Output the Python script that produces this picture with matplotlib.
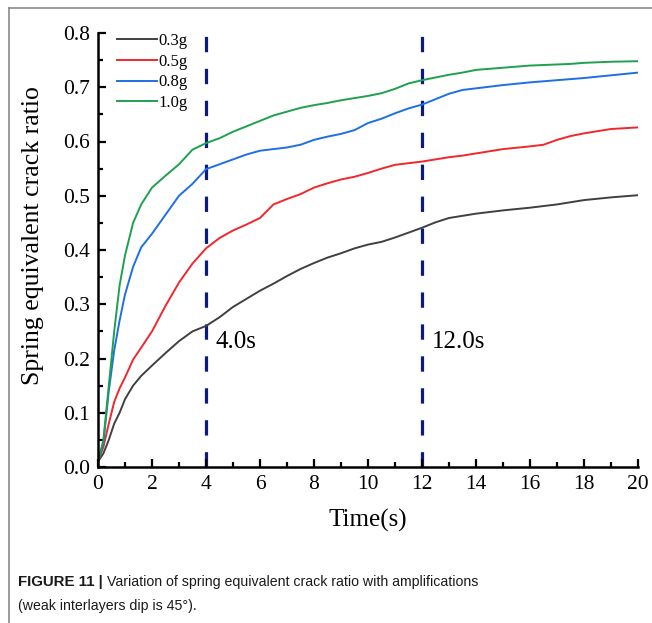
import matplotlib
matplotlib.use('Agg')
import matplotlib.pyplot as plt
from matplotlib.lines import Line2D

# 时间（s）
time = [0, 0.2, 0.4, 0.6, 0.8, 1.0, 1.3, 1.6, 2.0, 2.5, 3.0, 3.5, 4.0, 4.5,
        5.0, 5.5, 6.0, 6.5, 7.0, 7.5, 8.0, 8.5, 9.0, 9.5, 10.0, 10.5, 11.0,
        11.5, 12.0, 12.5, 13.0, 13.5, 14.0, 15.0, 16.0, 16.5, 17.0, 17.5,
        18.0, 19.0, 20.0]

# 不同地震动幅值下的弹簧等效裂缝比
ratio_03g = [0.010, 0.025, 0.050, 0.080, 0.100, 0.125, 0.150, 0.168, 0.187,
             0.210, 0.232, 0.250, 0.260, 0.276, 0.295, 0.310, 0.325, 0.338,
             0.352, 0.365, 0.376, 0.386, 0.394, 0.403, 0.410, 0.415, 0.423,
             0.432, 0.441, 0.451, 0.459, 0.463, 0.467, 0.473, 0.478, 0.481,
             0.484, 0.488, 0.492, 0.497, 0.501]
ratio_05g = [0.010, 0.037, 0.080, 0.120, 0.145, 0.165, 0.198, 0.220, 0.250,
             0.297, 0.340, 0.375, 0.403, 0.422, 0.436, 0.447, 0.459, 0.484,
             0.494, 0.503, 0.515, 0.523, 0.530, 0.535, 0.542, 0.550, 0.557,
             0.560, 0.563, 0.567, 0.571, 0.574, 0.578, 0.586, 0.591, 0.594,
             0.603, 0.610, 0.615, 0.623, 0.626]
ratio_08g = [0.010, 0.045, 0.140, 0.215, 0.270, 0.318, 0.369, 0.405, 0.430,
             0.465, 0.500, 0.522, 0.549, 0.558, 0.567, 0.576, 0.583, 0.586,
             0.589, 0.594, 0.603, 0.609, 0.614, 0.621, 0.634, 0.642, 0.652,
             0.661, 0.668, 0.678, 0.688, 0.695, 0.698, 0.704, 0.709, 0.711,
             0.713, 0.715, 0.717, 0.722, 0.727]
ratio_10g = [0.010, 0.050, 0.150, 0.250, 0.335, 0.390, 0.450, 0.484, 0.515,
             0.537, 0.558, 0.585, 0.597, 0.606, 0.618, 0.628, 0.638, 0.648,
             0.655, 0.662, 0.667, 0.671, 0.676, 0.680, 0.684, 0.689, 0.697,
             0.707, 0.713, 0.718, 0.723, 0.727, 0.732, 0.736, 0.740, 0.741,
             0.742, 0.743, 0.745, 0.747, 0.748]

labels = ['0.3g', '0.5g', '0.8g', '1.0g']
colors = ['#404040', '#f2262b', '#1e6fe6', '#1fa04e']

# 关键时刻
mark_times = [4.0, 12.0]
mark_labels = ['4.0s', '12.0s']

plt.rcParams['font.family'] = ['Liberation Serif', 'DejaVu Serif']

fig = plt.figure(figsize=(6.52, 6.23), dpi=100)
ax = fig.add_axes([98 / 652, 1 - 467 / 623, 540 / 652, 434 / 623])

for ratio, label, color in zip([ratio_03g, ratio_05g, ratio_08g, ratio_10g], labels, colors):
    ax.plot(time, ratio, color=color, lw=1.4, label=label)

# 竖向虚线标记 4.0s 和 12.0s
for t, text in zip(mark_times, mark_labels):
    ax.plot([t, t], [0, 0.8], color='#0b1a82', lw=2.3, dashes=(4.8, 5.2), zorder=1)
    ax.text(t + 0.35, 0.23, text, fontsize=18, va='center', ha='left')

ax.set_xlim(0, 20)
ax.set_ylim(0, 0.8)
ax.set_xticks(range(0, 21, 2))
ax.set_xticks(range(1, 20, 2), minor=True)
ax.set_yticks([i / 10 for i in range(9)])
ax.set_yticklabels(['%.1f' % (i / 10) for i in range(9)])
ax.set_yticks([0.05 + i / 10 for i in range(8)], minor=True)

ax.spines['top'].set_visible(False)
ax.spines['right'].set_visible(False)
ax.spines['left'].set_linewidth(1.8)
ax.spines['bottom'].set_linewidth(1.8)
ax.tick_params(which='major', direction='in', length=6, width=1.6, labelsize=15.5, pad=6)
ax.tick_params(which='minor', direction='in', length=3.5, width=1.6)

ax.legend(loc='upper left', bbox_to_anchor=(0.035, 1.0), frameon=False, fontsize=12,
          handlelength=2.4, handletextpad=0.08, labelspacing=0.28, borderaxespad=0,
          borderpad=0)

fig.text(368 / 652, 1 - 520 / 623, 'Time(s)', fontsize=18, ha='center', va='center')
fig.text(33 / 652, 1 - 236 / 623, 'Spring equivalent crack ratio', fontsize=18.5,
         rotation=90, ha='center', va='center')

# 外框线
fig.add_artist(Line2D([9 / 652, 9 / 652], [0, 1 - 8 / 623], color='#8a8a8a', lw=1.2,
                      transform=fig.transFigure))
fig.add_artist(Line2D([9 / 652, 1], [1 - 8 / 623, 1 - 8 / 623], color='#8a8a8a', lw=1.2,
                      transform=fig.transFigure))

# 图注
cap_bold = fig.text(18 / 652, 1 - 582 / 623, 'FIGURE 11 | ', fontsize=10.8, weight='bold',
                    family=['Liberation Sans', 'DejaVu Sans'], va='center', color='#1a1a1a')
fig.canvas.draw()
bb = cap_bold.get_window_extent()
fig.text(bb.x1 / fig.bbox.width, 1 - 582 / 623,
         'Variation of spring equivalent crack ratio with amplifications',
         fontsize=10.2, family=['Liberation Sans', 'DejaVu Sans'],
         va='center', color='#1a1a1a')
fig.text(18 / 652, 1 - 606 / 623, '(weak interlayers dip is 45°).', fontsize=10.2,
         family=['Liberation Sans', 'DejaVu Sans'], va='center', color='#1a1a1a')

fig.savefig('out.png', dpi=100)
